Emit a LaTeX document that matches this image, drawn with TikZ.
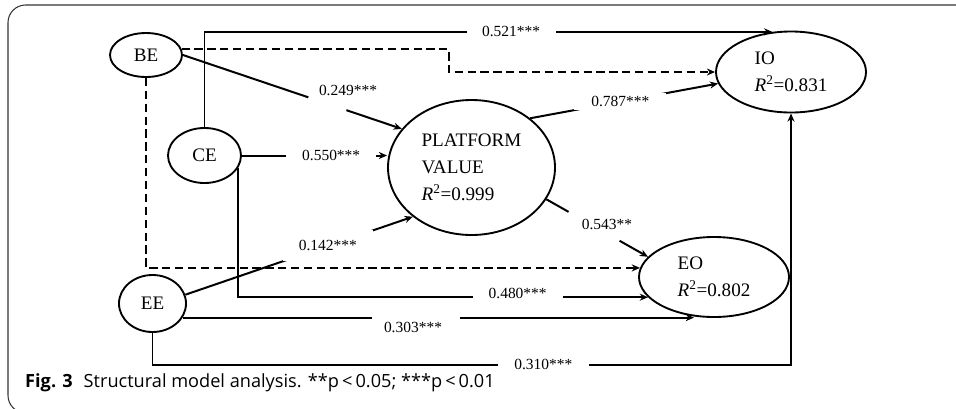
\documentclass[tikz,border=0pt]{standalone}
\usepackage{fontspec}
\setmainfont{Liberation Serif}
\newfontfamily\capfont{Open Sans}
\usetikzlibrary{calc,arrows.meta,shapes.geometric}
\begin{document}
\begin{tikzpicture}[x=0.03cm,y=-0.03cm,
  ell/.style={draw, ellipse, line width=1.6pt, inner sep=0pt, font=\fontsize{16.3}{23}\selectfont, align=left},
  conn/.style={line width=1.7pt, -{Stealth[length=7pt,width=6pt]}},
  dconn/.style={conn, dash pattern=on 7pt off 4pt},
  lab/.style={fill=white, inner sep=0pt, font=\fontsize{13.2}{15}\selectfont},
  gap/.style={fill=white, inner sep=0pt, minimum height=5pt, sloped},
  frame/.style={line width=0.9pt, black!80, rounded corners=15pt},
]
\useasboundingbox (0,0) rectangle (956,408);
\draw[frame] (960,5) -- (8,5) -- (8,413) -- (60,413);

\node[ell, minimum width=2.16cm, minimum height=1.32cm] (BE) at (146,55) {BE};
\node[ell, minimum width=2.19cm, minimum height=1.65cm] (CE) at (204.5,155.5) {CE};
\node[ell, minimum width=2.01cm, minimum height=1.71cm] (EE) at (152.5,303.5) {EE};
\node[ell, minimum width=5.01cm, minimum height=4.05cm] (PV) at (471.5,167.5) {PLATFORM\\VALUE\\\textit{R}\textsuperscript{2}=0.999};
\node[ell, minimum width=4.5cm, minimum height=2.43cm] (IO) at (791,72) {IO\\\textit{R}\textsuperscript{2}=0.831};
\node[ell, minimum width=4.5cm, minimum height=2.4cm] (EO) at (714,277) {EO\\\textit{R}\textsuperscript{2}=0.802};

% CE -> IO (top)
\draw[conn] (CE.north) |- node[lab, pos=0.77, minimum width=2.67cm]{0.521***} (IO.115);
% BE -> IO (dashed)
\draw[dconn] (BE.10) -- ++(267,0) |- (IO.west);
% BE -> PV
\draw[conn] (BE.east) -- node[gap, pos=0.66, minimum width=1.2cm]{} (PV.151);
\node[lab] (l249) at (348,90) {0.249***};
% CE -> PV
\draw[conn] (CE.east) -- node[lab, pos=0.615, minimum width=2.7cm]{0.550***} (PV.west |- CE.east);
% CE -> EO
\draw[conn] (CE.-20) |- node[lab, pos=0.841, minimum width=2.7cm, minimum height=0.55cm, yshift=3pt]{0.480***} (EO.197);
% BE -> EO (dashed)
\draw[dconn] (BE.south) |- (EO.173);
% EE -> PV
\draw[conn] (EE.15) -- node[lab, pos=0.626, minimum width=2.7cm, minimum height=0.93cm]{0.142***} (PV.220);
% EE -> EO
\draw[conn] (EE.-25) -- node[gap, pos=0.457, minimum width=2.64cm]{} ($(EE.-25 -| EO.south)+(-20,0)$);
\node[lab] (l303) at (413,327) {0.303***};
% EE -> IO
\draw[conn] (EE.south) -- ++(0,32) -| node[lab, pos=0.306, minimum width=2.73cm]{0.310***} (IO.south);
% PV -> IO
\draw[conn] (PV.40) -- node[lab, pos=0.48, minimum width=2.76cm, minimum height=0.5cm]{0.787***} (IO.189);
% PV -> EO
\draw[conn] (PV.-23) -- node[gap, pos=0.47, minimum width=1.75cm]{} (EO.163);
\node[lab] (l543) at (607,224) {0.543**};

\node[anchor=base west, inner sep=0pt, font=\capfont\fontsize{15.5}{18}\selectfont] (cap) at (25,387) {\textbf{Fig. 3}\hspace{0.6em}Structural model analysis. **p\,<\,0.05; ***p\,<\,0.01};
\end{tikzpicture}
\end{document}
